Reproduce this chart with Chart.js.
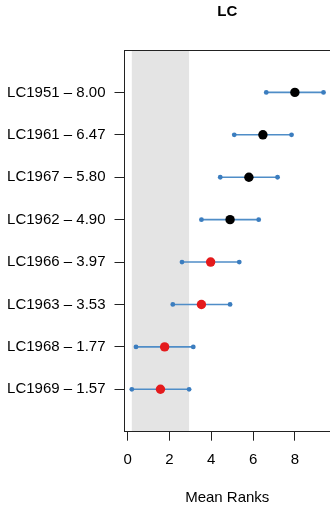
<!DOCTYPE html>
<html>
<head>
<meta charset="utf-8">
<script src="https://cdn.jsdelivr.net/npm/chart.js@4"></script>
<style>
html,body{margin:0;padding:0;background:#fff;}
canvas{display:block;}
</style>
</head>
<body>
<canvas id="c" width="330" height="506"></canvas>
<script>
// ---- data (top to bottom as displayed) ----
const names = ['LC1951','LC1961','LC1967','LC1962','LC1966','LC1963','LC1968','LC1969'];
const meanRanks = [8.00, 6.47, 5.80, 4.90, 3.97, 3.53, 1.77, 1.57];
const lowerCI = [6.63, 5.10, 4.43, 3.53, 2.60, 2.16, 0.40, 0.20];
const upperCI = [9.37, 7.84, 7.17, 6.27, 5.34, 4.90, 3.14, 2.94];
const xTicks = [0, 2, 4, 6, 8];
const titleText = 'LC';
const xTitle = 'Mean Ranks';

const n = names.length;
const rowPos = names.map((_, i) => n - i);
const best = meanRanks.indexOf(Math.min(...meanRanks));
const bandLow = lowerCI[best], bandHigh = upperCI[best];

const BLUE_LINE = '#4f8dc7';
const BLUE_DOT = '#3b7dbf';
const FONT = '"Liberation Sans", Arial, Helvetica, sans-serif';

const centerColors = names.map((_, i) => lowerCI[i] <= bandHigh ? '#e41a1c' : '#000000');

const datasets = [{
  type: 'scatter',
  data: names.map((_, i) => ({x: meanRanks[i], y: rowPos[i]})),
  pointRadius: 4.7,
  pointBackgroundColor: centerColors,
  pointBorderColor: centerColors,
  pointBorderWidth: 0,
  showLine: false
}];
names.forEach((_, i) => {
  datasets.push({
    type: 'line',
    data: [{x: lowerCI[i], y: rowPos[i]}, {x: upperCI[i], y: rowPos[i]}],
    borderColor: BLUE_LINE,
    borderWidth: 1.6,
    pointRadius: 2.4,
    pointBackgroundColor: BLUE_DOT,
    pointBorderWidth: 0,
    showLine: true,
    fill: false
  });
});

const bandPlugin = {
  id: 'band',
  beforeDraw(chart) {
    const {ctx, chartArea, scales} = chart;
    ctx.save();
    ctx.fillStyle = '#ffffff';
    ctx.fillRect(0, 0, chart.width, chart.height);
    const x1 = scales.x.getPixelForValue(bandLow);
    const x2 = scales.x.getPixelForValue(bandHigh);
    ctx.fillStyle = '#e4e4e4';
    ctx.fillRect(x1, chartArea.top, x2 - x1, chartArea.bottom - chartArea.top);
    ctx.restore();
  },
  afterDraw(chart) {
    const {ctx, chartArea} = chart;
    ctx.save();
    ctx.strokeStyle = '#222';
    ctx.lineWidth = 1;
    ctx.beginPath();
    const y = Math.round(chartArea.top) + 0.5;
    ctx.moveTo(chartArea.left, y);
    ctx.lineTo(chartArea.right + 2, y);
    ctx.stroke();
    ctx.restore();
  }
};

new Chart(document.getElementById('c'), {
  type: 'scatter',
  data: {datasets},
  plugins: [bandPlugin],
  options: {
    responsive: false,
    animation: false,
    devicePixelRatio: 1,
    layout: {padding: 0, autoPadding: false},
    plugins: {
      legend: {display: false},
      tooltip: {enabled: false},
      title: {
        display: true,
        text: titleText,
        fullSize: false,
        color: '#000',
        font: {family: FONT, size: 15, weight: 'bold', lineHeight: 1.2},
        padding: {top: 3, bottom: 29}
      }
    },
    scales: {
      x: {
        type: 'linear',
        min: -0.15,
        max: 9.68,
        afterBuildTicks(scale) { scale.ticks = xTicks.map(v => ({value: v})); },
        afterFit(scale) { scale.height = 74.3; scale.paddingLeft = 0; scale.paddingRight = 0; },
        grid: {drawOnChartArea: false, tickLength: 9, color: '#222', lineWidth: 1},
        border: {display: true, color: '#222', width: 1},
        ticks: {color: '#000', font: {family: FONT, size: 15}, padding: 10, maxRotation: 0},
        title: {display: true, text: xTitle, color: '#000', font: {family: FONT, size: 15, lineHeight: 1.2}, padding: {top: 0, bottom: -1}}
      },
      y: {
        type: 'linear',
        min: 0,
        max: n + 1,
        afterBuildTicks(scale) { scale.ticks = rowPos.map(v => ({value: v})); },
        afterFit(scale) { scale.width = 124.5; scale.paddingTop = 0; scale.paddingBottom = 0; },
        grid: {drawOnChartArea: false, tickLength: 10, color: '#222', lineWidth: 1},
        border: {display: true, color: '#222', width: 1},
        ticks: {
          color: '#000',
          font: {family: FONT, size: 15},
          padding: 9,
          callback(v) {
            const i = rowPos.indexOf(v);
            return i >= 0 ? names[i] + ' \u2013 ' + meanRanks[i].toFixed(2) : '';
          }
        }
      }
    }
  }
});
</script>
</body>
</html>
